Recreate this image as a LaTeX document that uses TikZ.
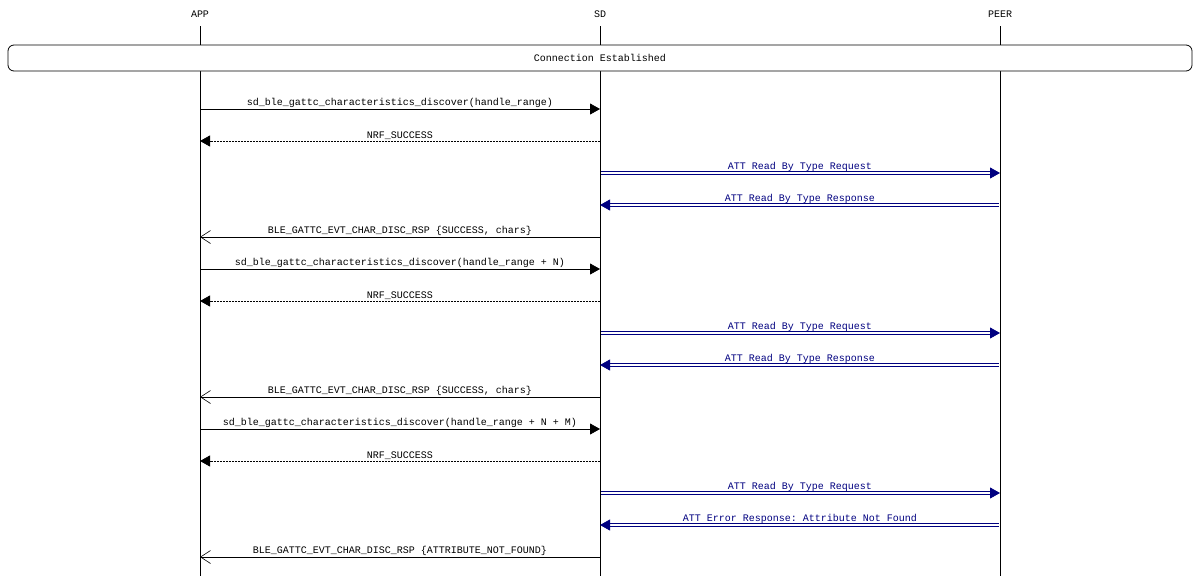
\documentclass[tikz,border=0pt]{standalone}
\usepackage{fontspec}
\setmonofont{Liberation Mono}
\usetikzlibrary{arrows.meta, positioning}
\definecolor{msgblue}{RGB}{0,0,128}
\tikzset{
    base/.style={font=\ttfamily\fontsize{10}{12}\selectfont, inner sep=1pt},
    life/.style={draw=black, line width=0.8pt},
    call/.style={draw=black, line width=0.8pt, -{Triangle[length=10pt, width=11pt]}},
    ret/.style={draw=black, line width=0.8pt, dash pattern=on 2pt off 1pt, -{Triangle[length=10pt, width=11pt]}},
    evt/.style={draw=black, line width=0.8pt, -{Straight Barb[length=10pt, width=13pt, line width=0.6pt]}},
    air/.style={draw=msgblue, double=white, double distance=1.6pt, line width=0.8pt, shorten <=1.2pt, -{Triangle[length=10pt, width=11pt]}},
    lbl/.style={base, anchor=south, yshift=0pt},
    airlbl/.style={lbl, text=msgblue}
}
\begin{document}
\begin{tikzpicture}[x=1pt, y=-1pt]
    \useasboundingbox (0,0) rectangle (1200,576);
    % lifeline heads
    \node [base] (App) at (200,14) {APP};
    \node [base] (Sd) at (600,14) {SD};
    \node [base] (Peer) at (1000,14) {PEER};
    \coordinate (AppEnd) at (200,576);
    \coordinate (SdEnd) at (600,576);
    \coordinate (PeerEnd) at (1000,576);
    \draw [life] (200,26) -- (AppEnd);
    \draw [life] (600,26) -- (SdEnd);
    \draw [life] (1000,26) -- (PeerEnd);

    \node [base, draw, fill=white, line width=0.8pt, rounded corners=6pt, minimum width=1184pt, minimum height=26pt] (Conn) at (600,58) {Connection Established};

    % message rows
    \foreach \i in {1,...,15} {
        \coordinate (a\i) at (200,77+32*\i);
        \coordinate (s\i) at (600,77+32*\i);
        \coordinate (p\i) at (1000,77+32*\i);
    }

    \draw [call] (a1) -- node [lbl] {sd\_ble\_gattc\_characteristics\_discover(handle\_range)} (s1);
    \draw [ret] (s2) -- node [lbl] {NRF\_SUCCESS} (a2);
    \draw [air] (s3) -- node [airlbl] {ATT Read By Type Request} (p3);
    \draw [air] (p4) -- node [airlbl] {ATT Read By Type Response} (s4);
    \draw [evt] (s5) -- node [lbl] {BLE\_GATTC\_EVT\_CHAR\_DISC\_RSP \{SUCCESS, chars\}} (a5);

    \draw [call] (a6) -- node [lbl] {sd\_ble\_gattc\_characteristics\_discover(handle\_range + N)} (s6);
    \draw [ret] (s7) -- node [lbl] {NRF\_SUCCESS} (a7);
    \draw [air] (s8) -- node [airlbl] {ATT Read By Type Request} (p8);
    \draw [air] (p9) -- node [airlbl] {ATT Read By Type Response} (s9);
    \draw [evt] (s10) -- node [lbl] {BLE\_GATTC\_EVT\_CHAR\_DISC\_RSP \{SUCCESS, chars\}} (a10);

    \draw [call] (a11) -- node [lbl] {sd\_ble\_gattc\_characteristics\_discover(handle\_range + N + M)} (s11);
    \draw [ret] (s12) -- node [lbl] {NRF\_SUCCESS} (a12);
    \draw [air] (s13) -- node [airlbl] {ATT Read By Type Request} (p13);
    \draw [air] (p14) -- node [airlbl] {ATT Error Response: Attribute Not Found} (s14);
    \draw [evt] (s15) -- node [lbl] {BLE\_GATTC\_EVT\_CHAR\_DISC\_RSP \{ATTRIBUTE\_NOT\_FOUND\}} (a15);
\end{tikzpicture}
\end{document}
